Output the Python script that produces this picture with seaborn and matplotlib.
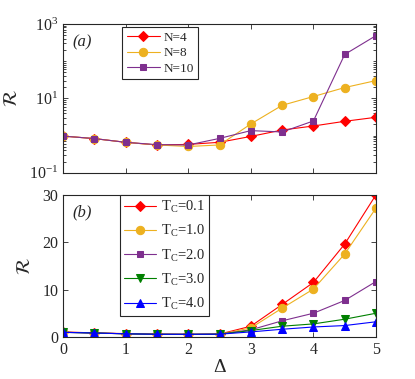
import numpy as np
import pandas as pd
import matplotlib
matplotlib.use("Agg")
import matplotlib.pyplot as plt
import seaborn as sns
from matplotlib.ticker import LogLocator, NullFormatter, FixedLocator

sns.set_theme(style="ticks")
plt.rcParams['font.family'] = ['Liberation Serif', 'DejaVu Serif']
plt.rcParams['mathtext.fontset'] = 'custom'
plt.rcParams['mathtext.rm'] = 'Liberation Serif'
plt.rcParams['mathtext.it'] = 'Liberation Serif:italic'

delta = [0, 0.5, 1, 1.5, 2, 2.5, 3, 3.5, 4, 4.5, 5]

# panel (a)
n_labels = ["N=4", "N=8", "N=10"]
r_n4 = [0.97, 0.83, 0.66, 0.56, 0.58, 0.66, 0.95, 1.41, 1.81, 2.42, 3.1]
r_n8 = [0.97, 0.83, 0.66, 0.56, 0.51, 0.56, 2.05, 6.5, 11.2, 19.5, 30.0]
r_n10 = [0.97, 0.83, 0.66, 0.57, 0.56, 0.84, 1.36, 1.25, 2.47, 151.0, 484.0]

# panel (b)
tc_labels = ["T$_\\mathrm{C}$=0.1", "T$_\\mathrm{C}$=1.0", "T$_\\mathrm{C}$=2.0",
             "T$_\\mathrm{C}$=3.0", "T$_\\mathrm{C}$=4.0"]
r_tc01 = [1.06, 0.85, 0.70, 0.60, 0.55, 0.60, 2.26, 6.85, 11.5, 19.6, 30.0]
r_tc10 = [1.0, 0.83, 0.66, 0.56, 0.51, 0.56, 1.9, 6.07, 10.1, 17.5, 27.2]
r_tc20 = [0.97, 0.83, 0.66, 0.57, 0.56, 0.60, 1.5, 3.4, 5.0, 7.7, 11.7]
r_tc30 = [0.97, 0.83, 0.66, 0.56, 0.55, 0.58, 1.35, 2.26, 2.75, 3.74, 5.0]
r_tc40 = [0.97, 0.83, 0.66, 0.56, 0.55, 0.58, 1.06, 1.62, 2.1, 2.4, 3.2]

red = '#FF0000'
orange = '#EDB120'
purple = '#7E2F8E'
green = '#008000'
blue = '#0000FF'
axcol = '#262626'

fig = plt.figure(figsize=(4.15, 3.79), dpi=100)
ax1 = fig.add_axes([0.152, 0.544, 0.754, 0.393])
ax2 = fig.add_axes([0.152, 0.111, 0.754, 0.375])

lw = 0.8
series_a = [(r_n4, red, 'D', 5), (r_n8, orange, 'o', 6), (r_n10, purple, 's', 4.5)]
for (vals, col, mk, m), lab in zip(series_a, n_labels):
    sns.lineplot(x=delta, y=vals, ax=ax1, color=col, marker=mk, markersize=m,
                 markeredgecolor=col, linewidth=lw, label=lab)
ax1.set_yscale('log')
ax1.set_ylim(0.1, 1000)
ax1.set_xlim(0, 5)
ax1.yaxis.set_major_locator(FixedLocator([0.1, 10, 1000]))
ax1.yaxis.set_minor_locator(LogLocator(base=10, subs=np.arange(1, 10), numticks=20))
ax1.yaxis.set_minor_formatter(NullFormatter())
ax1.set_yticklabels(['10$^{-1}$', '10$^{1}$', '10$^{3}$'])
ax1.set_xticks([0, 1, 2, 3, 4, 5])
ax1.set_xticklabels([])
ax1.set_ylabel(r'$\mathcal{R}$', fontsize=14, labelpad=6, math_fontfamily='stix')
ax1.text(0.03, 0.93, '(a)', transform=ax1.transAxes, fontsize=12, style='italic',
         va='top', ha='left')
leg1 = ax1.legend(loc='upper left', bbox_to_anchor=(0.188, 0.98), borderaxespad=0,
                  fontsize=9.5, frameon=True, fancybox=False, edgecolor=axcol,
                  handlelength=2.5, borderpad=0.35, labelspacing=0.25, handletextpad=0.3,
                  framealpha=1)
leg1.get_frame().set_linewidth(0.8)

series_b = [(r_tc01, red, 'D', 5), (r_tc10, orange, 'o', 6), (r_tc20, purple, 's', 4.5),
            (r_tc30, green, 'v', 5.5), (r_tc40, blue, '^', 5.5)]
for (vals, col, mk, m), lab in zip(series_b, tc_labels):
    sns.lineplot(x=delta, y=vals, ax=ax2, color=col, marker=mk, markersize=m,
                 markeredgecolor=col, linewidth=lw, label=lab)
ax2.set_ylim(0, 30)
ax2.set_xlim(0, 5)
ax2.set_yticks([0, 10, 20, 30])
ax2.set_xticks([0, 1, 2, 3, 4, 5])
ax2.set_xlabel(r'$\Delta$', fontsize=14, labelpad=1)
ax2.set_ylabel(r'$\mathcal{R}$', fontsize=14, labelpad=6, math_fontfamily='stix')
ax2.text(0.03, 0.93, '(b)', transform=ax2.transAxes, fontsize=12, style='italic',
         va='top', ha='left')
leg2 = ax2.legend(loc='upper left', bbox_to_anchor=(0.182, 1.0), borderaxespad=0,
                  fontsize=10.5, frameon=True, fancybox=False, edgecolor=axcol,
                  handlelength=2.2, borderpad=0.3, labelspacing=0.55, handletextpad=0.3,
                  framealpha=1)
leg2.get_frame().set_linewidth(0.8)

for ax in (ax1, ax2):
    for s in ax.spines.values():
        s.set_visible(True)
        s.set_color(axcol)
        s.set_linewidth(0.8)
    ax.tick_params(which='both', direction='in', top=True, right=True,
                   labelsize=11.5, colors=axcol, labelcolor='#262626', width=0.6)
    ax.tick_params(which='major', length=3.5)
    ax.tick_params(which='minor', length=2)

fig.savefig('out.png', dpi=100)
